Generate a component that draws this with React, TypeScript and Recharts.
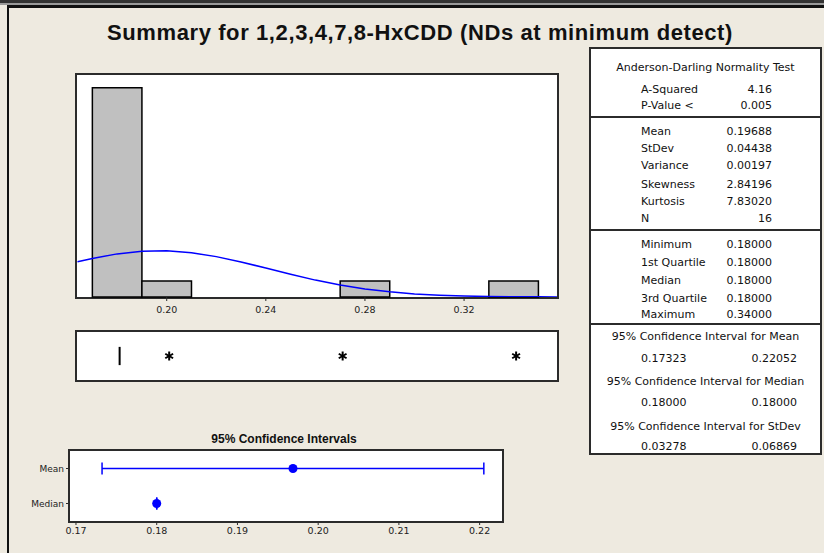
import React from "react";
import {
  ComposedChart,
  ScatterChart,
  Scatter,
  Line,
  XAxis,
  YAxis,
  ZAxis,
  ReferenceArea,
  ReferenceLine,
  ErrorBar,
} from "recharts";

// histogram bins (count per 0.02 wide bin)
const binStarts = [0.17, 0.19, 0.21, 0.23, 0.25, 0.27, 0.29, 0.31, 0.33];
const binEnds = [0.19, 0.21, 0.23, 0.25, 0.27, 0.29, 0.31, 0.33, 0.35];
const binCounts = [13, 1, 0, 0, 0, 1, 0, 0, 1];
const histTicks = [0.2, 0.24, 0.28, 0.32];

// fitted normal curve (in counts)
const curveX = [0.164, 0.17, 0.18, 0.19, 0.2, 0.21, 0.22, 0.23, 0.24, 0.25, 0.26, 0.27, 0.28, 0.29, 0.3, 0.31, 0.32, 0.33, 0.34, 0.35, 0.3575];
const curveY = [2.19, 2.39, 2.68, 2.84, 2.87, 2.75, 2.51, 2.18, 1.8, 1.41, 1.05, 0.74, 0.5, 0.32, 0.19, 0.11, 0.06, 0.03, 0.02, 0.01, 0.005];

// boxplot
const boxMin = 0.18;
const boxQ1 = 0.18;
const boxMedian = 0.18;
const boxQ3 = 0.18;
const boxMax = 0.18;
const outliers = [0.2, 0.27, 0.34];

// 95% confidence intervals
const ciNames = ["Mean", "Median"];
const ciEst = [0.19688, 0.18];
const ciLow = [0.17323, 0.18];
const ciHigh = [0.22052, 0.18];
const ciTicks = [0.17, 0.18, 0.19, 0.2, 0.21, 0.22];

// stats table
const adLabels = ["A-Squared", "P-Value <"];
const adValues = ["4.16", "0.005"];
const descLabels = ["Mean", "StDev", "Variance", "Skewness", "Kurtosis", "N"];
const descValues = ["0.19688", "0.04438", "0.00197", "2.84196", "7.83020", "16"];
const quartLabels = ["Minimum", "1st Quartile", "Median", "3rd Quartile", "Maximum"];
const quartValues = ["0.18000", "0.18000", "0.18000", "0.18000", "0.34000"];
const ciTitles = [
  "95% Confidence Interval for Mean",
  "95% Confidence Interval for Median",
  "95% Confidence Interval for StDev",
];
const ciTableLow = ["0.17323", "0.18000", "0.03278"];
const ciTableHigh = ["0.22052", "0.18000", "0.06869"];

const BG = "#EEEAE0";
const FRAME = "#2b2b2b";
const BLUE = "#0000FF";
const FONT = "'DejaVu Sans', sans-serif";
const TITLE_FONT = "'Liberation Sans', Arial, sans-serif";

const HIST_DOMAIN = [0.1638, 0.3575];
const BOX_DOMAIN = [0.1628, 0.3565];

const curveData = curveX.map((x, i) => ({ x, y: curveY[i] }));
const outlierData = outliers.map((x) => ({ x, y: 0.5 }));
const ciData = ciNames.map((name, i) => ({
  name,
  est: ciEst[i],
  err: [ciEst[i] - ciLow[i], ciHigh[i] - ciEst[i]],
}));

function Frame({ x, y, w, h }: { x: number; y: number; w: number; h: number }) {
  return (
    <div
      style={{
        position: "absolute",
        left: x - 2,
        top: y - 2,
        width: w + 4,
        height: h + 4,
        boxSizing: "border-box",
        border: `2px solid ${FRAME}`,
        background: "#fff",
      }}
    />
  );
}

function Asterisk(props: any) {
  const { cx, cy } = props;
  const r = 4.5;
  const d = r * 0.87;
  return (
    <g stroke="#000" strokeWidth={2}>
      <line x1={cx} y1={cy - r} x2={cx} y2={cy + r} />
      <line x1={cx - d} y1={cy - r / 2} x2={cx + d} y2={cy + r / 2} />
      <line x1={cx - d} y1={cy + r / 2} x2={cx + d} y2={cy - r / 2} />
    </g>
  );
}

const tickStyle = { fontSize: 9.5, fill: "#222", fontFamily: FONT };

function StatsTable() {
  const left = 589;
  const top = 47;
  const txt = (y: number): React.CSSProperties => ({
    position: "absolute",
    top: y - top - 7,
    lineHeight: "14px",
    fontSize: 11,
    whiteSpace: "nowrap",
  });
  const divider = (y: number) => (
    <div
      key={"d" + y}
      style={{ position: "absolute", left: 0, right: 0, top: y - top - 1, height: 2, background: FRAME }}
    />
  );
  const pairRows = (labels: string[], values: string[], ys: number[]) =>
    labels.map((l, i) => (
      <React.Fragment key={l + i}>
        <div style={{ ...txt(ys[i]), left: 50 }}>{l}</div>
        <div style={{ ...txt(ys[i]), right: 48, textAlign: "right" }}>{values[i]}</div>
      </React.Fragment>
    ));
  return (
    <div
      style={{
        position: "absolute",
        left,
        top,
        width: 233,
        height: 408,
        boxSizing: "border-box",
        border: `2px solid ${FRAME}`,
        background: "#fff",
        fontFamily: FONT,
        color: "#111",
      }}
    >
      <div style={{ ...txt(66), left: 0, right: 0, textAlign: "center" }}>Anderson-Darling Normality Test</div>
      {pairRows(adLabels, adValues, [88, 104])}
      {divider(115)}
      {pairRows(descLabels, descValues, [130, 147, 164, 183, 200, 217])}
      {divider(228)}
      {pairRows(quartLabels, quartValues, [243, 261, 279, 297, 313])}
      {divider(322)}
      {ciTitles.map((t, i) => (
        <React.Fragment key={t}>
          <div style={{ ...txt(335 + i * 45), left: 0, right: 0, textAlign: "center" }}>{t}</div>
          <div style={{ ...txt(357 + i * 44), left: 50 }}>{ciTableLow[i]}</div>
          <div style={{ ...txt(357 + i * 44), right: 23, textAlign: "right" }}>{ciTableHigh[i]}</div>
        </React.Fragment>
      ))}
    </div>
  );
}

export default function App() {
  return (
    <div
      style={{
        position: "absolute",
        left: 0,
        top: 0,
        width: 824,
        height: 553,
        background: BG,
        overflow: "hidden",
        fontFamily: FONT,
      }}
    >
      {/* window edge */}
      <div style={{ position: "absolute", left: 0, top: 0, width: 824, height: 3, background: "#333" }} />
      <div style={{ position: "absolute", left: 0, top: 3, width: 824, height: 2, background: "#9a9a9a" }} />
      <div style={{ position: "absolute", left: 7, top: 5, width: 817, height: 3, background: "#111" }} />
      <div style={{ position: "absolute", left: 7, top: 5, width: 2, height: 548, background: "#111" }} />

      <div
        style={{
          position: "absolute",
          left: 0,
          width: 840,
          top: 21,
          textAlign: "center",
          fontFamily: TITLE_FONT,
          fontWeight: "bold",
          fontSize: 22,
          letterSpacing: 0.6,
          lineHeight: "24px",
          color: "#111",
        }}
      >
        Summary for 1,2,3,4,7,8-HxCDD (NDs at minimum detect)
      </div>

      {/* histogram */}
      <Frame x={77} y={75} w={480} h={222} />
      <div style={{ position: "absolute", left: 77, top: 75 }}>
        <ComposedChart width={480} height={246} data={curveData} margin={{ top: 0, right: 0, bottom: 0, left: 0 }}>
          <XAxis
            type="number"
            dataKey="x"
            domain={HIST_DOMAIN}
            allowDataOverflow
            ticks={histTicks}
            interval={0}
            tickFormatter={(v: number) => v.toFixed(2)}
            height={24}
            tickSize={4}
            tickMargin={5}
            axisLine={false}
            tickLine={{ stroke: FRAME }}
            tick={tickStyle}
          />
          <YAxis type="number" dataKey="y" hide domain={[0, 13.8]} allowDataOverflow />
          {binStarts.map((s, i) => (
            <ReferenceArea
              key={s}
              x1={s}
              x2={binEnds[i]}
              y1={0}
              y2={binCounts[i]}
              fill="#C0C0C0"
              fillOpacity={1}
              stroke="#000"
              strokeWidth={1.5}
              ifOverflow="visible"
            />
          ))}
          <Line
            type="linear"
            dataKey="y"
            stroke={BLUE}
            strokeWidth={1.5}
            dot={false}
            isAnimationActive={false}
          />
        </ComposedChart>
      </div>

      {/* boxplot */}
      <Frame x={77} y={332} w={480} h={48} />
      <div style={{ position: "absolute", left: 77, top: 332 }}>
        <ComposedChart width={480} height={48} data={outlierData} margin={{ top: 0, right: 0, bottom: 0, left: 0 }}>
          <XAxis type="number" dataKey="x" hide domain={BOX_DOMAIN} allowDataOverflow />
          <YAxis type="number" dataKey="y" hide domain={[0, 1]} allowDataOverflow />
          <ReferenceLine segment={[{ x: boxMin, y: 0.5 }, { x: boxQ1, y: 0.5 }]} stroke="#000" strokeWidth={1.5} />
          <ReferenceLine segment={[{ x: boxQ3, y: 0.5 }, { x: boxMax, y: 0.5 }]} stroke="#000" strokeWidth={1.5} />
          <ReferenceLine segment={[{ x: boxMedian, y: 0.31 }, { x: boxMedian, y: 0.69 }]} stroke="#000" strokeWidth={2} />
          <Scatter data={outlierData} shape={<Asterisk />} isAnimationActive={false} />
        </ComposedChart>
      </div>

      {/* confidence intervals */}
      <div
        style={{
          position: "absolute",
          left: 184,
          width: 200,
          top: 431,
          textAlign: "center",
          fontFamily: TITLE_FONT,
          fontWeight: "bold",
          fontSize: 12,
          lineHeight: "16px",
          color: "#111",
        }}
      >
        95% Confidence Intervals
      </div>
      <Frame x={70} y={451} w={432} h={70} />
      <div style={{ position: "absolute", left: 10, top: 451 }}>
        <ScatterChart width={492} height={90} margin={{ top: 0, right: 0, bottom: 0, left: 0 }}>
          <XAxis
            type="number"
            dataKey="est"
            domain={[0.16926, 0.22277]}
            allowDataOverflow
            ticks={ciTicks}
            interval={0}
            tickFormatter={(v: number) => v.toFixed(2)}
            height={20}
            tickSize={4}
            tickMargin={2}
            axisLine={false}
            tickLine={{ stroke: FRAME }}
            tick={tickStyle}
          />
          <YAxis
            type="category"
            dataKey="name"
            reversed
            width={60}
            tickSize={4}
            tickMargin={2}
            axisLine={false}
            tickLine={{ stroke: FRAME }}
            tick={{ ...tickStyle, fontSize: 9 }}
          />
          <ZAxis range={[48, 48]} />
          <Scatter data={ciData} fill={BLUE} isAnimationActive={false}>
            <ErrorBar dataKey="err" direction="x" width={6} stroke={BLUE} strokeWidth={1.5} />
          </Scatter>
        </ScatterChart>
      </div>

      <StatsTable />
    </div>
  );
}
